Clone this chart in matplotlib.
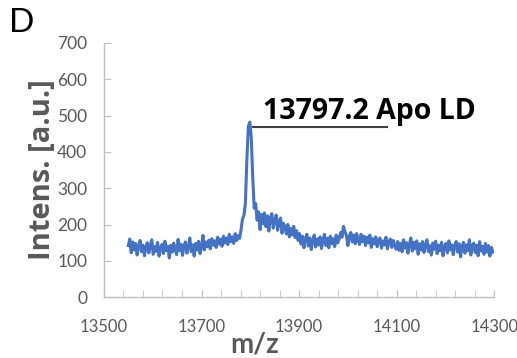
import numpy as np
import matplotlib.pyplot as plt

plt.rcParams['font.family'] = ['Lato', 'DejaVu Sans']

# spectrum, sampled every 3 m/z units from 13550
mz_start = 13550
mz_step = 3
intens = [
    142, 160, 122, 152, 130, 148, 116, 140, 156, 125,
    143, 114, 137, 150, 122, 141, 158, 118, 139, 126,
    151, 113, 135, 145, 120, 154, 128, 140, 108, 143,
    124, 149, 132, 117, 159, 128, 146, 115, 140, 152,
    121, 138, 163, 125, 144, 113, 148, 130, 154, 120,
    138, 170, 130, 152, 139, 157, 133, 161, 143, 155,
    137, 165, 146, 160, 140, 168, 149, 163, 145, 173,
    153, 166, 148, 175, 156, 169, 162,
    185, 215, 225, 260, 380, 470, 482, 440, 330, 245,
    258, 212, 235, 186, 228, 202, 232, 194, 224, 182,
    218, 230, 190, 213, 226, 184, 208, 218, 176, 203,
    194, 174, 200, 166, 189, 171, 195, 164, 183, 156,
    175, 146, 168, 136, 161, 173, 141, 163, 131, 155,
    171, 138, 160, 144, 166, 134, 158, 173, 142, 162,
    136, 168, 147, 161, 139, 171, 149,
    160, 178, 165, 195, 180, 170, 142, 168,
    178, 152, 171, 147, 175, 157, 145, 173, 153, 168,
    142, 165, 149, 171, 137, 161, 147, 166, 139, 158,
    163, 135, 155, 144, 165, 133, 153, 160, 137, 156,
    142, 132,
    153, 129, 148, 125, 158, 135, 150, 121, 145, 163,
    127, 151, 133, 155, 118, 147, 130, 153, 123, 144,
    158, 126, 142, 116, 149, 132, 154, 120, 143, 128,
    151, 114, 140, 148, 122, 155, 130, 144, 117, 142,
    153, 124, 147, 111, 139, 151, 121, 144, 128, 158,
    116, 141, 149, 123, 143, 114, 153, 127, 140, 118,
    148, 124, 142, 113, 137, 124,
]
mz = mz_start + mz_step * np.arange(len(intens))

peak_mz = 13797.2
peak_label = "13797.2 Apo LD"
xticks = [13500, 13700, 13900, 14100, 14300]
yticks = [0, 100, 200, 300, 400, 500, 600, 700]

gray = '#595959'
axcol = '#bfbfbf'

fig = plt.figure(figsize=(5.17, 3.58), dpi=100)
ax = fig.add_axes([0.201, 0.170, 0.755, 0.710])

ax.plot(mz, intens, color='#4472C4', lw=2.2)

ax.set_xlim(13500, 14300)
ax.set_ylim(0, 700)
ax.set_xticks(xticks)
ax.set_xticks(np.arange(13500, 14301, 40), minor=True)
ax.set_yticks(yticks)

for s in ['top', 'right']:
    ax.spines[s].set_visible(False)
for s in ['left', 'bottom']:
    ax.spines[s].set_color(axcol)
    ax.spines[s].set_linewidth(1.0)

ax.tick_params(axis='y', direction='in', length=5, color=axcol, labelcolor=gray,
               labelsize=12.5, pad=12)
ax.tick_params(axis='x', which='both', direction='in', length=5, color=axcol,
               labelcolor=gray, labelsize=12, pad=16)

ax.set_ylabel('Intens. [a.u.]', fontsize=21, fontweight='bold', color=gray,
              family=['Open Sans', 'DejaVu Sans'], labelpad=0)

fig.text(0.493, 0.002, 'm/z', fontsize=20, fontweight='bold', color=gray,
         ha='center', va='bottom')
fig.text(0.018, 0.893, 'D', fontsize=24, color='black', ha='left', va='bottom')

# peak label with leader line
ax.plot([peak_mz + 8, 14080], [468, 468], color='#404040', lw=1.5)
ax.text(peak_mz + 28, 471, peak_label, fontsize=20.5, fontweight='bold',
        color='black', family=['Open Sans', 'DejaVu Sans'], ha='left', va='bottom')

fig.savefig('out.png', dpi=100)
